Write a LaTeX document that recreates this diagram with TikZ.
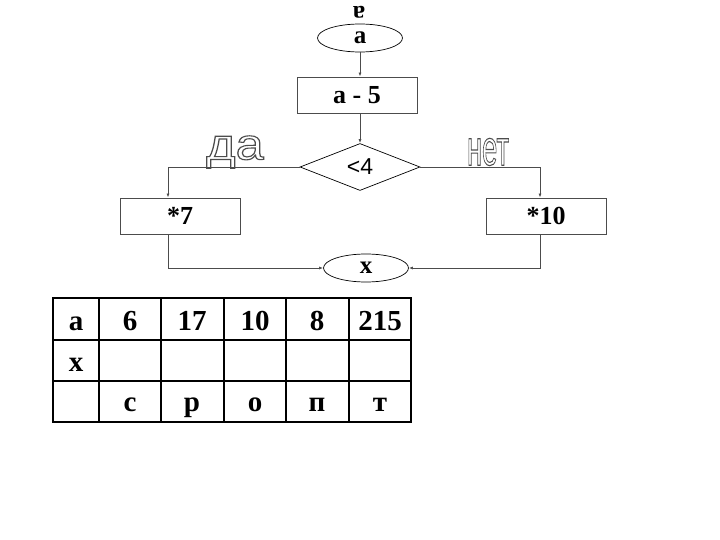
\documentclass[tikz,border=0pt]{standalone}
\usepackage{fontspec}
\setmainfont{Liberation Serif}
\newfontfamily\sansf{Liberation Sans}
\usetikzlibrary{shapes.geometric,arrows.meta}
\newcommand{\outlinetext}[1]{\special{pdf:literal q 0.3 0.3 0.3 RG 1.1 w 1 Tr}#1\special{pdf:literal 0 Tr Q}}
\begin{document}
\begin{tikzpicture}[x=1pt,y=-1pt,
  line/.style={draw=black!70, line width=0.9pt},
  arr/.style={line, -{Latex[length=4pt,width=3pt]}},
  procbox/.style={draw=black!70, line width=0.9pt, minimum width=120pt, minimum height=36pt, inner sep=0pt, font=\bfseries\fontsize{26}{26}\selectfont},
  term/.style={draw=black, line width=0.7pt, ellipse, minimum width=85pt, minimum height=28pt, inner sep=0pt, font=\bfseries\fontsize{25}{25}\selectfont},
  cond/.style={draw=black, line width=0.7pt, diamond, aspect=2.55, minimum width=120pt, minimum height=47pt, inner sep=0pt, font=\sansf\fontsize{23}{23}\selectfont},
  cell/.style={anchor=base, font=\bfseries\fontsize{29}{29}\selectfont},
  outl/.style={inner sep=0pt}
]
\useasboundingbox (0,0) rectangle (720,540);
\node[rotate=180, font=\bfseries\fontsize{25}{25}\selectfont] (ua) at (359,12) {a};
\node[term] (start) at (360,38) {a};
\node[procbox] (sub) at (357,95) {a - 5};
\node[cond] (c) at (360,167) {<4};
\node[procbox] (m7) at (180,216) {*7};
\node[procbox] (m10) at (546,216) {*10};
\node[term] (x) at (366,268) {x};
\draw[arr] (start.south) -- (start.south |- sub.north);
\draw[arr] (c.north |- sub.south) -- (c.north);
\coordinate (l1) at (168,167);
\coordinate (r1) at (540,167);
\coordinate (l2) at (168,268);
\coordinate (r2) at (540,268);
\draw[arr] (c.west) -- (l1) -- (l1 |- m7.north);
\draw[arr] (c.east) -- (r1) -- (r1 |- m10.north);
\draw[arr] (l1 |- m7.south) -- (l2) -- (x.west);
\draw[arr] (r1 |- m10.south) -- (r2) -- (x.east);
\node[outl, font=\sansf\fontsize{44}{44}\selectfont] (da) at (235,152) {\scalebox{1.15}[1]{\outlinetext{да}}};
\node[outl, font=\sansf\fontsize{50}{50}\selectfont] (net) at (488,152) {\scalebox{0.55}[1]{\outlinetext{нет}}};
% table
\draw[black, line width=1.6pt] (53,298) rectangle (411,422);
\foreach \xx in {99,161,224,286,349} \draw[black, line width=1.3pt] (\xx,298) -- (\xx,422);
\foreach \yy in {340,381} \draw[black, line width=1.3pt] (53,\yy) -- (411,\yy);
\node[cell] (t11) at (76,330) {a};
\node[cell] (t12) at (130,330) {6};
\node[cell] (t13) at (192,330) {17};
\node[cell] (t14) at (255,330) {10};
\node[cell] (t15) at (317,330) {8};
\node[cell] (t16) at (380,330) {215};
\node[cell] (t21) at (76,371) {x};
\node[cell] (t32) at (130,411) {с};
\node[cell] (t33) at (192,411) {р};
\node[cell] (t34) at (255,411) {о};
\node[cell] (t35) at (317,411) {п};
\node[cell] (t36) at (380,411) {т};
\end{tikzpicture}
\end{document}
